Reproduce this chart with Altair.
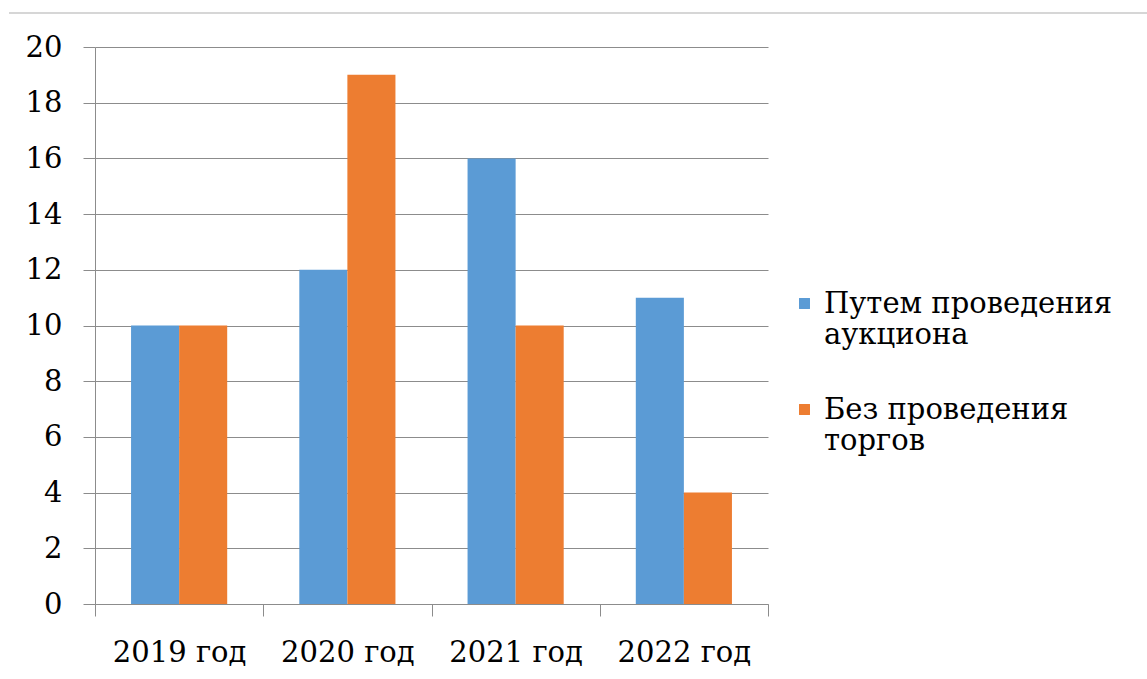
import altair as alt
import pandas as pd

years = ["2019 год", "2020 год", "2021 год", "2022 год"]
series = ["Путем проведения\nаукциона", "Без проведения\nторгов"]
auction = [10, 12, 16, 11]
no_tender = [10, 19, 10, 4]
colors = ["#5B9BD5", "#ED7D31"]

rows = []
for i, y in enumerate(years):
    rows.append({"year": y, "series": series[0], "value": auction[i]})
    rows.append({"year": y, "series": series[1], "value": no_tender[i]})
df = pd.DataFrame(rows)

FONT = "DejaVu Serif"
GRID = "#8c8c8c"
FS = 29

bars = alt.Chart(df).mark_bar().encode(
    x=alt.X("year:N", sort=years,
            scale=alt.Scale(paddingInner=0, paddingOuter=0),
            axis=alt.Axis(title=None, labelAngle=0, tickBand="extent", tickSize=12,
                          tickColor=GRID, domainColor=GRID, labelFont=FONT,
                          labelFontSize=FS, labelColor="#000000", labelPadding=22,
                          grid=False)),
    xOffset=alt.XOffset("series:N", sort=series,
                        scale=alt.Scale(paddingOuter=0.75, paddingInner=0)),
    y=alt.Y("value:Q", scale=alt.Scale(domain=[0, 20]),
            axis=alt.Axis(title=None, values=list(range(0, 21, 2)), tickSize=12,
                          tickColor=GRID, domainColor=GRID, gridColor=GRID,
                          labelFont=FONT, labelFontSize=FS, labelColor="#000000",
                          labelPadding=21)),
    color=alt.Color("series:N", sort=series,
                    scale=alt.Scale(domain=series, range=colors),
                    legend=alt.Legend(title=None, orient="none", legendX=695, legendY=242,
                                      symbolType="square", symbolSize=120,
                                      symbolStrokeWidth=0, labelFont=FONT,
                                      labelFontSize=FS, labelColor="#000000",
                                      labelExpr="split(datum.label, '\\n')",
                                      labelLimit=400, rowPadding=45,
                                      labelBaseline="middle", labelOffset=5)),
)

topline = alt.Chart(pd.DataFrame({"a": [0]})).mark_rule(color="#c8c8c8", strokeWidth=1.5).encode(
    x=alt.value(-86), x2=alt.value(1052), y=alt.value(-34)
)

chart = alt.layer(bars, topline).properties(
    width=673, height=557,
    autosize=alt.AutoSizeParams(type="none"),
    padding={"left": 95, "top": 47, "right": 379, "bottom": 75},
    background="#ffffff",
).configure_view(stroke=None)

chart.save("out.html", embed_options={"renderer": "svg", "actions": False})
